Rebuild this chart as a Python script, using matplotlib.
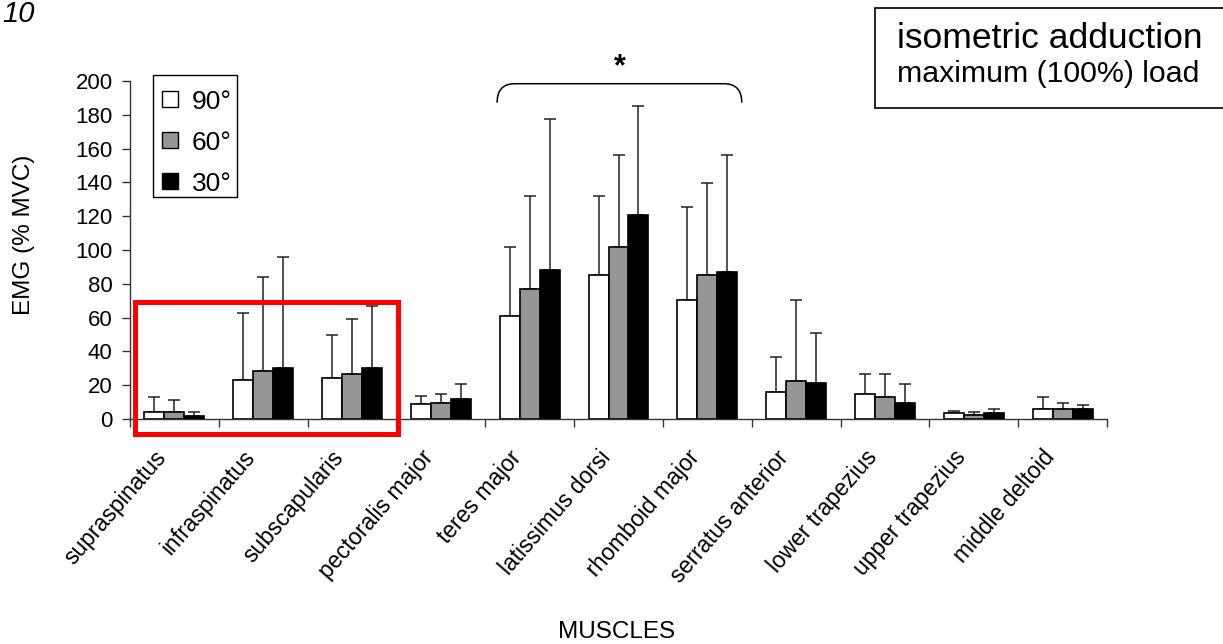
import matplotlib
matplotlib.use("Agg")
import matplotlib.pyplot as plt
import numpy as np
from matplotlib.patches import Rectangle, PathPatch
from matplotlib.path import Path
import matplotlib.transforms as mtransforms

plt.rcParams['font.family'] = ['Liberation Sans', 'DejaVu Sans']

muscles = ['supraspinatus', 'infraspinatus', 'subscapularis', 'pectoralis major',
           'teres major', 'latissimus dorsi', 'rhomboid major', 'serratus anterior',
           'lower trapezius', 'upper trapezius', 'middle deltoid']
angles = ['90°', '60°', '30°']
mean90 = [4.3, 23.2, 24.0, 8.7, 60.8, 85.0, 70.2, 16.1, 14.6, 3.3, 5.9]
mean60 = [4.3, 28.3, 26.5, 9.4, 77.1, 101.9, 85.0, 22.4, 12.8, 2.4, 5.9]
mean30 = [2.0, 30.0, 30.0, 12.0, 88.3, 121.0, 86.7, 21.4, 9.6, 3.5, 5.9]
sd90 = [8.5, 39.3, 25.7, 4.9, 41.1, 47.0, 55.0, 20.7, 11.8, 1.6, 6.9]
sd60 = [6.7, 55.7, 32.5, 5.2, 54.9, 54.1, 54.6, 47.8, 13.6, 1.7, 3.5]
sd30 = [2.3, 66.0, 37.0, 8.6, 89.1, 64.0, 69.3, 29.3, 10.9, 2.4, 2.5]
yticks = list(range(0, 201, 20))

W, H = 1223, 644
fig = plt.figure(figsize=(W / 100, H / 100), dpi=100)
ax = fig.add_axes([130 / W, 1 - 419 / H, (1107 - 130) / W, (419 - 81) / H])


def fx(px):
    return px / W


def fy(py):
    return 1 - py / H


x = np.arange(len(muscles))
bw = 0.225
colors = ['white', '#969696', 'black']
means = [mean90, mean60, mean30]
sds = [sd90, sd60, sd30]
for k in range(3):
    pos = x + (k - 1) * bw
    ax.bar(pos, means[k], bw, color=colors[k], edgecolor='black', linewidth=1.2,
           label=angles[k], zorder=3)
    ax.errorbar(pos, means[k], yerr=[np.zeros(len(muscles)), sds[k]], fmt='none',
                ecolor='#222222', elinewidth=1.1, capsize=4.3, capthick=1.1, zorder=2)

ax.set_xlim(-0.5, len(muscles) - 0.5)
ax.set_ylim(0, 200)
ax.set_yticks(yticks)
ax.set_yticklabels([str(t) for t in yticks], fontsize=16)
ax.set_xticks(np.arange(-0.5, len(muscles), 1.0))
ax.set_xticklabels([])
ax.set_xticks(x, minor=True)
ax.set_xticklabels(muscles, minor=True, rotation=49, ha='right', va='center',
                   rotation_mode='anchor', fontsize=16.5)
ax.tick_params(axis='x', which='major', direction='out', length=5.8, width=1.0, color='#333333')
ax.tick_params(axis='x', which='minor', length=0, pad=25)
ax.tick_params(axis='y', direction='out', length=5.5, width=1.0, color='#333333', pad=7)
offset = mtransforms.ScaledTranslation(-12 / 100, 0, fig.dpi_scale_trans)
for lab in ax.get_xticklabels(minor=True):
    lab.set_transform(lab.get_transform() + offset)

for s in ['top', 'right']:
    ax.spines[s].set_visible(False)
for s in ['left', 'bottom']:
    ax.spines[s].set_linewidth(1.0)
    ax.spines[s].set_color('#333333')

# legend box (drawn in figure pixels)
fig.patches.append(Rectangle((fx(153), fy(197)), 84 / W, 122 / H, transform=fig.transFigure,
                             facecolor='white', edgecolor='black', linewidth=1.0))
row_centers = [99, 140, 181]
for k in range(3):
    yc = row_centers[k]
    fig.patches.append(Rectangle((fx(162), fy(yc + 8)), 16 / W, 16 / H, transform=fig.transFigure,
                                 facecolor=colors[k], edgecolor='black', linewidth=1.0))
    fig.text(fx(192), fy(yc + 10), angles[k], ha='left', va='baseline', fontsize=19)

# bracket with asterisk
x0, x1, yb, yt, r = 3.633, 6.388, 187.2, 198.4, 0.2
verts = [(x0, yb), (x0, yt), (x0 + r, yt), (x1 - r, yt), (x1, yt), (x1, yb)]
codes = [Path.MOVETO, Path.CURVE3, Path.CURVE3, Path.LINETO, Path.CURVE3, Path.CURVE3]
ax.add_patch(PathPatch(Path(verts, codes), facecolor='none', edgecolor='black',
                       linewidth=1.1, clip_on=False, zorder=4))
ax.text((x0 + x1) / 2, 208, '*', ha='center', va='center', fontsize=22, fontweight='bold')

# red highlight rectangle
ax.add_patch(Rectangle((-0.449, -9.1), 2.512 + 0.449, 69.3 + 9.1, facecolor='none',
                       edgecolor='#ff0000', linewidth=3.6, clip_on=False, zorder=5))

# labels
fig.text(fx(24), fy(235), 'EMG (% MVC)', rotation=90, ha='center', va='center', fontsize=17.5)
fig.text(fx(616.5), fy(638), 'MUSCLES', ha='center', va='baseline', fontsize=17.5)
fig.text(fx(2), fy(22), '10', ha='left', va='baseline', fontsize=21, style='italic')

# title box
fig.patches.append(Rectangle((fx(875), fy(108)), (1260 - 875) / W, 100 / H,
                             transform=fig.transFigure, facecolor='white',
                             edgecolor='black', linewidth=1.2))
fig.text(fx(897), fy(48), 'isometric adduction', ha='left', va='baseline', fontsize=25.5)
fig.text(fx(897), fy(82), 'maximum (100%) load', ha='left', va='baseline', fontsize=21.8)

fig.savefig('out.png', dpi=100)
